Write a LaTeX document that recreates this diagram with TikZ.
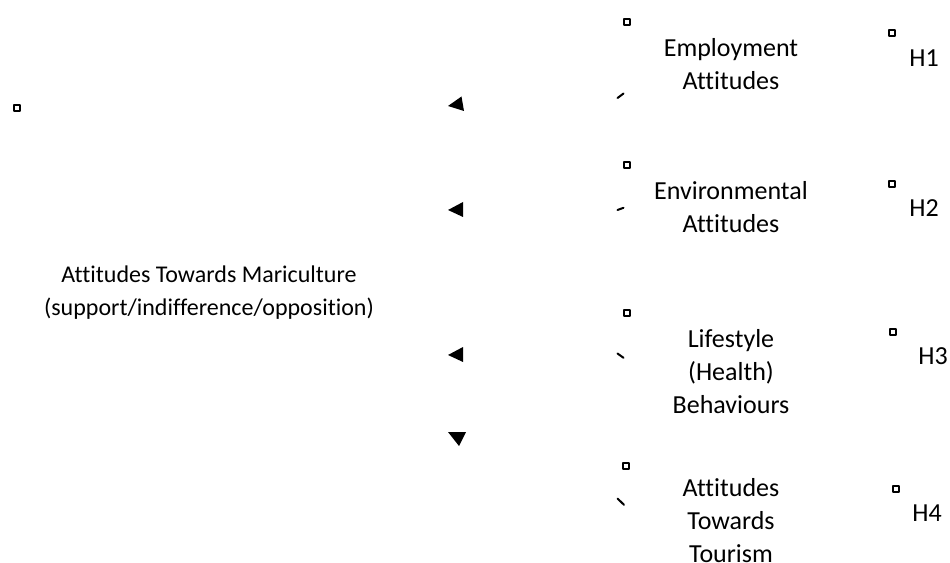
\documentclass[tikz,border=0pt]{standalone}
\usepackage{fontspec}
\setmainfont{Carlito}[Ligatures=NoCommon]
\begin{document}
\begin{tikzpicture}[x=0.75pt,y=-0.75pt,line join=round,line cap=round,
	font=\fontsize{19.5}{24.75}\selectfont,
	lbl/.style={align=center,inner sep=0pt},
	sqmark/.style={draw,line width=1.1pt,minimum size=4.2pt,inner sep=0pt},
	frag/.style={line width=1.5pt}]
	\useasboundingbox (0,0) rectangle (950,563);
	% left block
	\node[sqmark] (s0) at (17,108) {};
	\node[lbl,font=\fontsize{18}{24.75}\selectfont] (mari) at (209,293) {Attitudes Towards Mariculture\\(support/indifference/opposition)};
	% arrow tips
	\fill (448,106)--(461.5,96.5)--(464,111)--cycle;
	\fill (448,210)--(463,202)--(463,217)--cycle;
	\fill (448,355)--(463,347)--(463,362)--cycle;
	\fill (448,432)--(466,432)--(459,446)--cycle;
	% factors
	\node[sqmark] (s1) at (627,22) {};
	\node[lbl] (empl) at (731,64) {Employment\\Attitudes};
	\draw[frag] (617.5,98)--(623.5,93.5);
	\node[sqmark] (s2) at (627,165) {};
	\node[lbl] (envi) at (731,207) {Environmental\\Attitudes};
	\draw[frag] (617.5,210)--(623.5,207.8);
	\node[sqmark] (s3) at (627,313) {};
	\node[lbl] (life) at (731,372) {Lifestyle\\(Health)\\Behaviours};
	\draw[frag] (617.5,353.5)--(623.5,357.8);
	\node[sqmark] (s4) at (626,466) {};
	\node[lbl] (tour) at (731,521) {Attitudes\\Towards\\Tourism};
	\draw[frag] (617.5,498.5)--(624,504.8);
	% hypotheses
	\node[sqmark] (h1s) at (892,33) {};
	\node[lbl] (h1) at (924,58) {H1};
	\node[sqmark] (h2s) at (892,184) {};
	\node[lbl] (h2) at (924,208) {H2};
	\node[sqmark] (h3s) at (893,332) {};
	\node[lbl] (h3) at (933,356) {H3};
	\node[sqmark] (h4s) at (896,489) {};
	\node[lbl] (h4) at (927,513) {H4};
\end{tikzpicture}
\end{document}
